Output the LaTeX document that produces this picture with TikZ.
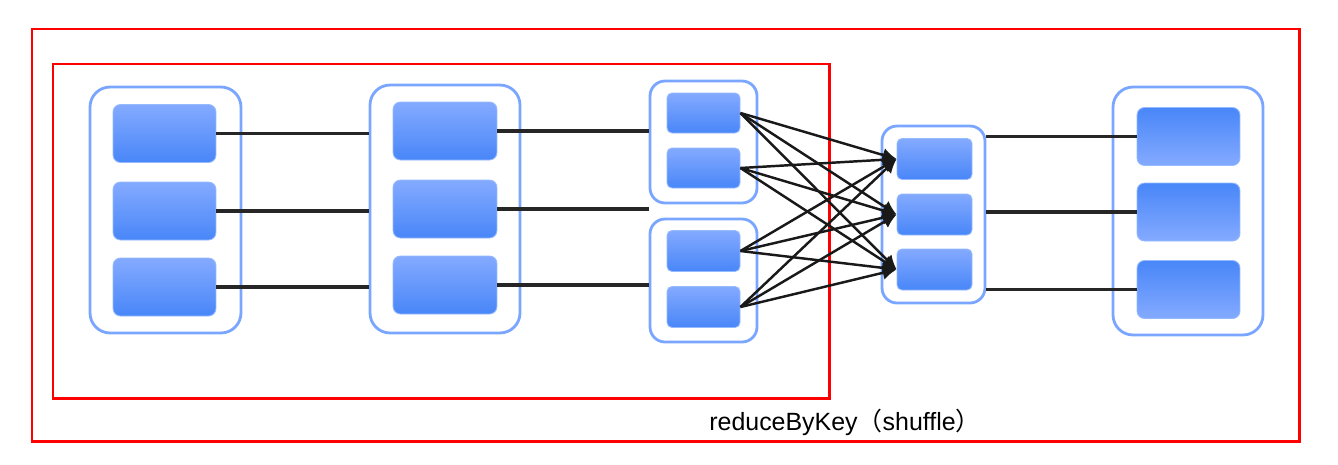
\documentclass[tikz,border=0pt]{standalone}
\usepackage{fontspec}
\setmainfont{Liberation Sans}
\newfontfamily\cjk{Noto Sans CJK SC}
\usetikzlibrary{arrows.meta}
\definecolor{cellTop}{RGB}{132,170,255}
\definecolor{cellBot}{RGB}{72,134,248}
\definecolor{cellEdge}{RGB}{150,186,255}
\definecolor{boxEdge}{RGB}{122,166,255}
\tikzset{
  group/.style={draw=boxEdge, line width=1.6pt, fill=white, rounded corners=0.4cm},
  cell/.style={draw=cellEdge, line width=0.5pt, rounded corners=0.15cm,
    top color=cellTop, bottom color=cellBot},
  rcell/.style={cell, top color=cellBot, bottom color=cellTop},
  link/.style={line width=2pt, black!85},
  flow/.style={line width=1.4pt, black!90, -{Latex[length=8pt,width=8pt]}},
  frame/.style={draw=red, line width=1.7pt}
}

\begin{document}
\begin{tikzpicture}[x=0.02cm, y=-0.02cm]
		\useasboundingbox (0,0) rectangle (1338,464);
		\draw[frame] (32,29) rectangle (1299,441);
		\draw[frame] (53,64) rectangle (829,398);

		\node[group, minimum width=3.02cm, minimum height=4.92cm] (ga) at (165.5,210) {};
		\node[cell, minimum width=2.06cm, minimum height=1.16cm] (a1) at (164.5,133.5) {};
		\node[cell, minimum width=2.06cm, minimum height=1.16cm] (a2) at (164.5,211) {};
		\node[cell, minimum width=2.06cm, minimum height=1.16cm] (a3) at (164.5,287) {};

		\node[group, minimum width=3cm, minimum height=4.96cm] (gb) at (445,209) {};
		\node[cell, minimum width=2.08cm, minimum height=1.16cm] (b1) at (445,131) {};
		\node[cell, minimum width=2.08cm, minimum height=1.16cm] (b2) at (445,209) {};
		\node[cell, minimum width=2.08cm, minimum height=1.16cm] (b3) at (445,285) {};

		\node[group, minimum width=2.14cm, minimum height=2.44cm, rounded corners=0.3cm] (gc) at (703.5,142) {};
		\node[cell, minimum width=1.46cm, minimum height=0.8cm, rounded corners=0.1cm] (c1) at (703.5,113) {};
		\node[cell, minimum width=1.46cm, minimum height=0.8cm, rounded corners=0.1cm] (c2) at (703.5,168) {};
		\node[group, minimum width=2.14cm, minimum height=2.46cm, rounded corners=0.3cm] (gd) at (703.5,280.5) {};
		\node[cell, minimum width=1.46cm, minimum height=0.82cm, rounded corners=0.1cm] (c3) at (703.5,251) {};
		\node[cell, minimum width=1.46cm, minimum height=0.82cm, rounded corners=0.1cm] (c4) at (703.5,307) {};

		\node[group, minimum width=2.06cm, minimum height=3.54cm, rounded corners=0.3cm] (ge) at (933.5,214.5) {};
		\node[cell, minimum width=1.5cm, minimum height=0.82cm, rounded corners=0.1cm] (d1) at (934.5,159) {};
		\node[cell, minimum width=1.5cm, minimum height=0.82cm, rounded corners=0.1cm] (d2) at (934.5,214.5) {};
		\node[cell, minimum width=1.5cm, minimum height=0.82cm, rounded corners=0.1cm] (d3) at (934.5,269.5) {};

		\node[group, minimum width=3cm, minimum height=4.96cm] (gf) at (1188,211) {};
		\node[rcell, minimum width=2.06cm, minimum height=1.16cm] (e1) at (1188.5,136.5) {};
		\node[rcell, minimum width=2.06cm, minimum height=1.16cm] (e2) at (1188.5,212) {};
		\node[rcell, minimum width=2.06cm, minimum height=1.16cm] (e3) at (1188.5,289.5) {};

		\draw[link] (a1.east) -- (a1.east -| gb.west);
		\draw[link] (a2.east) -- (a2.east -| gb.west);
		\draw[link] (a3.east) -- (a3.east -| gb.west);
		\draw[link] (b1.east) -- (b1.east -| gc.west);
		\draw[link] (b2.east) -- (b2.east -| gc.west);
		\draw[link] (b3.east) -- (b3.east -| gd.west);
		\draw[link] (e1.west -| ge.east) -- (e1.west);
		\draw[link] (e2.west -| ge.east) -- (e2.west);
		\draw[link] (e3.west -| ge.east) -- (e3.west);

		\foreach \s in {c1,c2,c3,c4}
			\foreach \t in {d1,d2,d3}
				\draw[flow] (\s.east) -- (\t.west);

		\node[font=\fontsize{14.2}{17}\selectfont] (caption) at (845,422) {reduceByKey{\cjk （}shuffle{\cjk ）}};
	\end{tikzpicture}
\end{document}
